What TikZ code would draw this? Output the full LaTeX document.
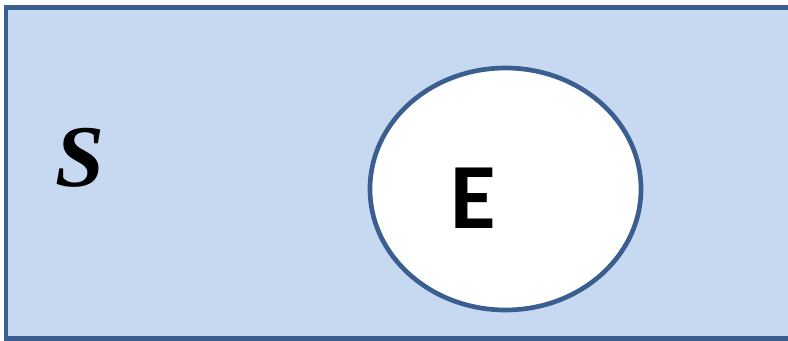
\documentclass[tikz,border=0pt]{standalone}
\usepackage{fontspec}
\newfontfamily\calib{Carlito}
\newfontfamily\timesb{Liberation Serif}
\usetikzlibrary{shapes.geometric}
\definecolor{setfill}{RGB}{198,217,240}
\definecolor{setline}{RGB}{58,94,143}
\begin{document}
\begin{tikzpicture}[
    x=0.75pt, y=-0.75pt,
    setline/.style={draw=setline, line width=3.5pt},
    lbl/.style={inner sep=0pt, anchor=center}
]
\useasboundingbox (0,0) rectangle (788,341);
\draw[setline, line width=3.6pt, fill=setfill] (6,7.5) rectangle (800,338.5);
\node[setline, ellipse, fill=white, minimum width=271*0.75pt, minimum height=242*0.75pt, inner sep=0pt] (event) at (505.5,189) {};
\node[lbl, font=\fontsize{66}{70}\selectfont\timesb\bfseries\itshape] (space) at (80,158) {S};
\node[lbl, font=\fontsize{70}{74}\selectfont\calib\bfseries] (ev) at (473,198) {E};
\end{tikzpicture}
\end{document}
